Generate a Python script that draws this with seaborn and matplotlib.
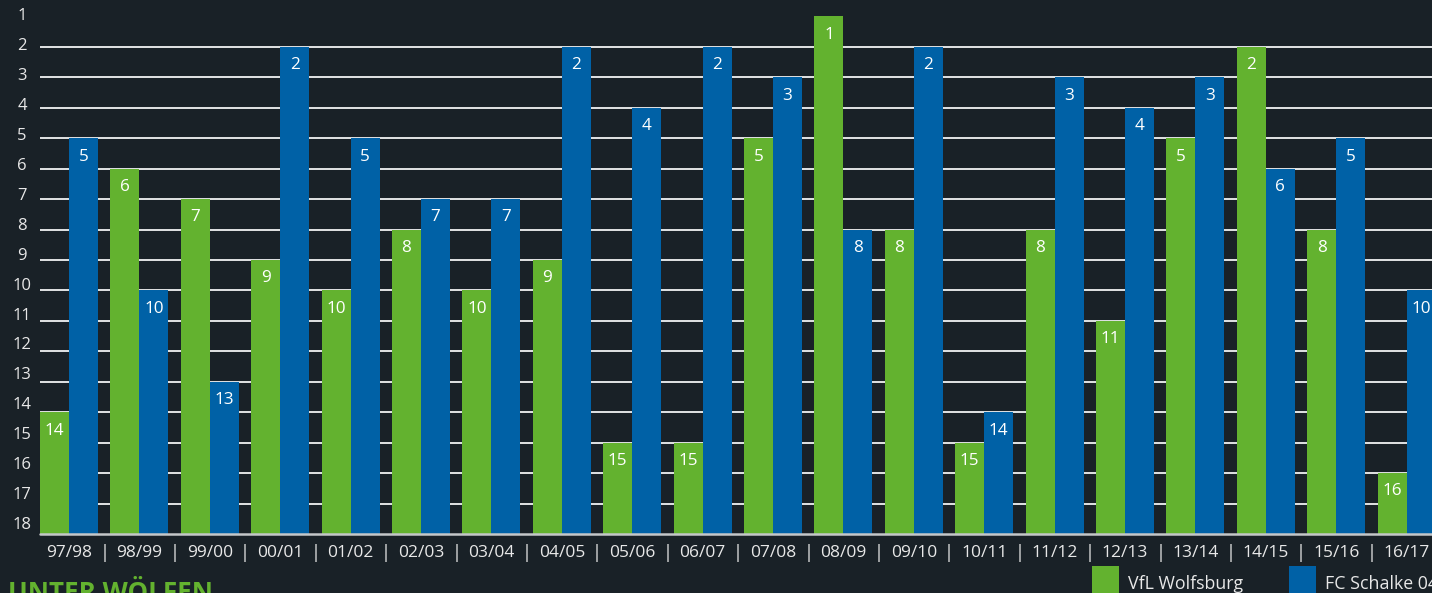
import numpy as np
import pandas as pd
import seaborn as sns
import matplotlib
matplotlib.use("Agg")
import matplotlib.pyplot as plt
from matplotlib.patches import Rectangle
from matplotlib.transforms import ScaledTranslation

seasons = ["97/98", "98/99", "99/00", "00/01", "01/02", "02/03", "03/04", "04/05",
           "05/06", "06/07", "07/08", "08/09", "09/10", "10/11", "11/12", "12/13",
           "13/14", "14/15", "15/16", "16/17"]
wolfsburg = [14, 6, 7, 9, 10, 8, 10, 9, 15, 15, 5, 1, 8, 15, 8, 11, 5, 2, 8, 16]
schalke = [5, 10, 13, 2, 5, 7, 7, 2, 4, 2, 3, 8, 2, 14, 3, 4, 3, 6, 5, 10]
teams = ["VfL Wolfsburg", "FC Schalke 04"]
ranks = list(range(1, 19))
title_text = "UNTER WÖLFEN"

BG = "#192127"
GREEN = "#63b22f"
BLUE = "#0061a6"
TXT = "#e8e8e8"
GRID = "#e2e4e5"
N_TEAMS = 18

sns.set_theme(style="white")
plt.rcParams["font.family"] = ["Open Sans", "DejaVu Sans"]

df = pd.DataFrame({
    "season": seasons * 2,
    "team": [teams[0]] * len(seasons) + [teams[1]] * len(seasons),
    "rank": wolfsburg + schalke,
})
df["height"] = N_TEAMS - df["rank"]

W, H = 1432, 593
fig = plt.figure(figsize=(W / 100, H / 100), dpi=100, facecolor=BG)
ax = fig.add_axes([40 / W, (H - 534) / H, 1 - 40 / W, 534 / H])
ax.set_facecolor(BG)

sns.barplot(data=df, x="season", y="height", hue="team", order=seasons,
            hue_order=teams, palette=[GREEN, BLUE], saturation=1, width=0.824,
            linewidth=0, legend=False, ax=ax, zorder=2)

ax.set_xlim(-0.412, 19.36)
ax.set_ylim(0, 17.54)

# gridlines behind bars
for r in ranks[1:-1]:
    ax.axhline(N_TEAMS - r, color=GRID, lw=1.4, zorder=0.5)
ax.axhline(0, color="#c4c7c9", lw=1.8, zorder=3, clip_on=False)

for s in ax.spines.values():
    s.set_visible(False)

# y ticks (rank labels)
ypos = [0.36 + (N_TEAMS - r) * 0.983 for r in ranks]
ax.set_yticks(ypos)
ax.set_yticklabels([str(r) for r in ranks], fontsize=12, color=TXT, ha="center")
ax.tick_params(axis="y", length=0, pad=13)

# x ticks
ax.set_xticks(range(len(seasons)))
ax.set_xticklabels(seasons, fontsize=12.5, color=TXT)
ax.tick_params(axis="x", length=0, pad=14)
for lab in ax.get_xticklabels():
    lab.set_va("center")
ax.set_xlabel("")
ax.set_ylabel("")

off = ax.get_xaxis_transform() + ScaledTranslation(0, -0.19, fig.dpi_scale_trans)
for i in range(len(seasons) - 1):
    ax.text(i + 0.5, 0, "|", transform=off, ha="center", va="center",
            fontsize=13, color=TXT)

# value labels inside bars
for cont, vals in zip(ax.containers, [wolfsburg, schalke]):
    ax.bar_label(cont, labels=[str(v) for v in vals], padding=-19,
                 color="white", fontsize=12.3)

# legend
for x0, col, name in [(1092, GREEN, teams[0]), (1289, BLUE, teams[1])]:
    fig.add_artist(Rectangle((x0 / W, -0.02), 27 / W, (27 / H) + 0.02,
                             transform=fig.transFigure, color=col, lw=0))
    fig.text((x0 + 36) / W, (H - 584) / H, name, fontsize=12.8, color=TXT,
             ha="left", va="center")

fig.text(8 / W, -0.0128, title_text, fontsize=18.7, fontweight="bold",
         color=GREEN, ha="left", va="baseline")

fig.savefig("out.png", dpi=100, facecolor=BG)
